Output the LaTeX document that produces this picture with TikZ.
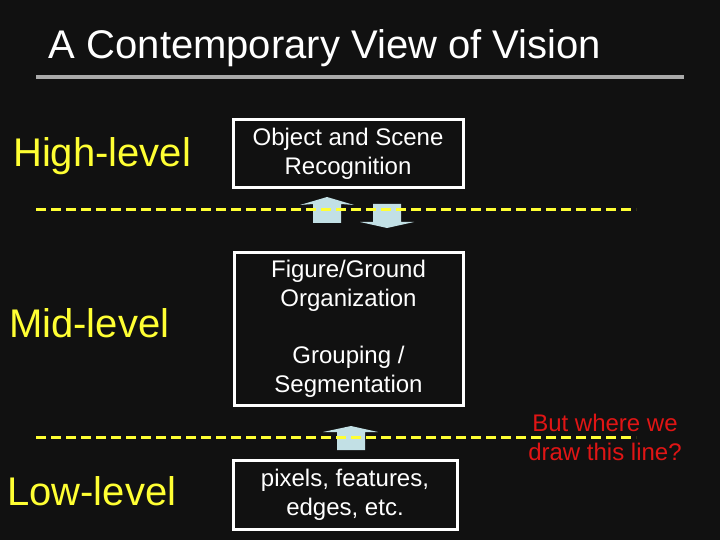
\documentclass[tikz,border=0pt]{standalone}
\usepackage{fontspec}
\setmainfont{Liberation Sans}
\definecolor{slidebg}{HTML}{111111}
\definecolor{levelyellow}{HTML}{FFFF33}
\definecolor{linegray}{HTML}{AAAAAA}
\definecolor{arrowblue}{HTML}{C2E0E5}
\definecolor{askred}{HTML}{E01515}
\tikzset{
  stagebox/.style={draw=white, line width=3pt, text=white, align=center,
    font=\fontsize{24}{29}\selectfont, inner sep=0pt},
  levellabel/.style={text=levelyellow, anchor=west, inner sep=0pt,
    font=\fontsize{40}{46}\selectfont},
  cutline/.style={levelyellow, line width=3pt, dash pattern=on 10pt off 5pt},
  blockarrow/.style={fill=arrowblue}
}
\begin{document}
\begin{tikzpicture}[x=1pt,y=-1pt]
  \useasboundingbox[fill=slidebg] (0,0) rectangle (720,540);
  % title and rule
  \node[text=white, font=\fontsize{40}{46}\selectfont] (title) at (325,48) {A Contemporary View of Vision};
  \draw[linegray, line width=4pt] (36,77) -- (684,77);
  % level names
  \node[levellabel] (high) at (13,156) {High-level};
  \node[levellabel] (mid) at (9,323) {Mid-level};
  \node[levellabel] (low) at (7,491) {Low-level};
  % stages
  \node[stagebox, minimum width=230pt, minimum height=68pt] (objrec) at (348,154)
    {Object and Scene\\Recognition};
  \node[stagebox, minimum width=229pt, minimum height=153pt] (midstage) at (348.5,328.5)
    {Figure/Ground\\Organization\\[28pt]Grouping /\\Segmentation};
  \node[stagebox, minimum width=224pt, minimum height=69pt] (pixels) at (345,494.5)
    {pixels, features,\\edges, etc.};
  % block arrows across the cuts
  \fill[blockarrow] (313,223) -- (313,204) -- (300,205) -- (327,197) -- (354,205) -- (341,204) -- (341,223) -- cycle;
  \fill[blockarrow] (373,204) -- (373,222) -- (360,222) -- (387,228) -- (414,222) -- (401,222) -- (401,204) -- cycle;
  \fill[blockarrow] (337,450) -- (337,432) -- (323,432) -- (351,426) -- (378,432) -- (365,432) -- (365,450) -- cycle;
  % dashed cuts
  \coordinate (cutA) at (36,210);
  \coordinate (cutB) at (636,210);
  \coordinate (cutC) at (36,437);
  \coordinate (cutD) at (636,437);
  \draw[cutline] (cutA) -- (cutB);
  \draw[cutline] (cutC) -- (cutD);
  % question
  \node[text=askred, align=center, font=\fontsize{24}{29}\selectfont, inner sep=0pt] (ask) at (605,437)
    {But where we\\draw this line?};
\end{tikzpicture}
\end{document}
